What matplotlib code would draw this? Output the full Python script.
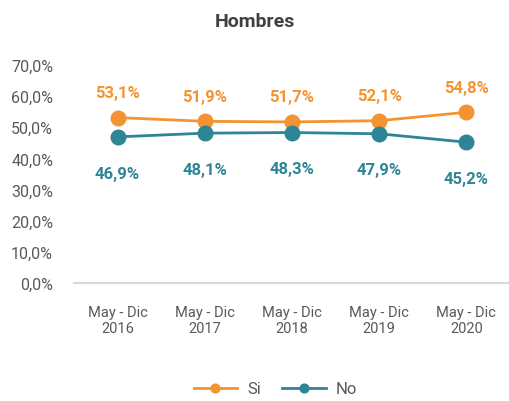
import matplotlib.pyplot as plt

plt.rcParams['font.family'] = ['Roboto', 'DejaVu Sans']

periods = ["May - Dic\n2016", "May - Dic\n2017", "May - Dic\n2018", "May - Dic\n2019", "May - Dic\n2020"]
si = [53.1, 51.9, 51.7, 52.1, 54.8]
no = [46.9, 48.1, 48.3, 47.9, 45.2]
yticks = [0, 10, 20, 30, 40, 50, 60, 70]

orange = "#F39332"
teal = "#2E8596"
grey = "#595959"

fig = plt.figure(figsize=(5.1, 4.02), dpi=100)
ax = fig.add_axes([0.145, 0.2935, 0.855, 0.5425])

x = list(range(len(periods)))
ax.plot(x, si, color=orange, lw=2, marker="o", ms=10.5, label="Si")
ax.plot(x, no, color=teal, lw=2, marker="o", ms=10.5, label="No")

for i in x:
    ax.annotate(f"{si[i]:.1f}%".replace(".", ","), (i, si[i]), xytext=(0, 18),
                textcoords="offset points", ha="center", va="center",
                color=orange, fontsize=12, fontweight="bold")
    ax.annotate(f"{no[i]:.1f}%".replace(".", ","), (i, no[i]), xytext=(0, -26),
                textcoords="offset points", ha="center", va="center",
                color=teal, fontsize=12, fontweight="bold")

ax.set_xlim(-0.5, len(periods) - 0.5)
ax.set_ylim(0, 70)
ax.set_yticks(yticks)
ax.set_yticklabels([f"{v:.1f}%".replace(".", ",") for v in yticks])
ax.set_xticks(x)
ax.set_xticklabels(periods)
ax.tick_params(axis="y", length=0, pad=15, labelsize=11.5, labelcolor=grey)
ax.tick_params(axis="x", length=0, pad=16, labelsize=10.5, labelcolor=grey)

for s in ["top", "right", "left"]:
    ax.spines[s].set_visible(False)
ax.spines["bottom"].set_color("#D9D9D9")
ax.spines["bottom"].set_linewidth(1.5)

fig.text(0.5, 0.945, "Hombres", ha="center", va="center",
         fontsize=14, fontweight="bold", color="#404040")

fig.legend(loc="center", bbox_to_anchor=(0.54, 0.03), ncol=2, frameon=False,
           fontsize=12, labelcolor=grey, handlelength=2.6, markerscale=0.6,
           columnspacing=1.3, handletextpad=0.6)

fig.savefig("out.png", dpi=100)
